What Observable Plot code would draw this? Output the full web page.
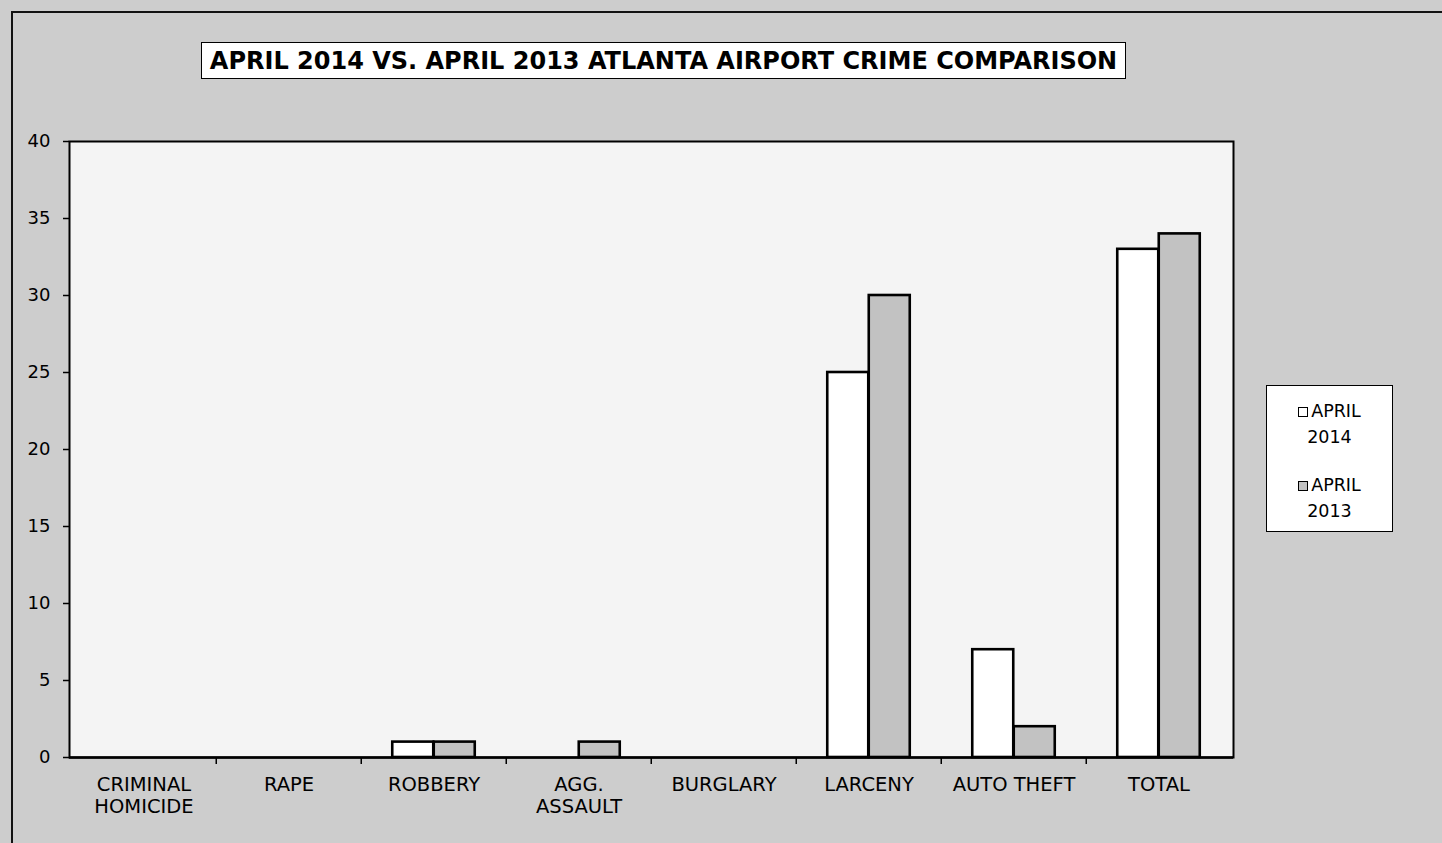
<!DOCTYPE html>
<html>
<head>
<meta charset="utf-8">
<script src="https://cdn.jsdelivr.net/npm/d3@7"></script>
<script src="https://cdn.jsdelivr.net/npm/@observablehq/plot@0.6"></script>
<style>
html, body { margin: 0; padding: 0; background: #cdcdcd; }
#page { position: relative; width: 1442px; height: 843px; background: #cdcdcd; overflow: hidden; font-family: "DejaVu Sans", sans-serif; }
#border { position: absolute; left: 11px; top: 11px; right: -10px; bottom: -10px; border-left: 2px solid #111; border-top: 2px solid #111; }
#chart { position: absolute; left: 0; top: 0; }
#title { position: absolute; left: 201px; top: 42px; width: 923px; height: 35px; border: 1.5px solid #000; background: #fff;
  font: bold 24px "DejaVu Sans"; color: #000; display: flex; align-items: center; justify-content: center; white-space: nowrap; }
#legend { position: absolute; left: 1266px; top: 385px; width: 125px; height: 145px; border: 1.5px solid #000; background: #fff; }
.item { position: absolute; left: 0; width: 100%; text-align: center; font: 17.5px/26px "DejaVu Sans"; color: #000; }
.sw { display: inline-block; width: 8px; height: 8px; border: 1.5px solid #000; margin-right: 3px; }
</style>
</head>
<body>
<div id="page">
  <div id="border"></div>
  <div id="chart"></div>
  <div id="title"></div>
  <div id="legend"></div>
</div>
<script>
const title = "APRIL 2014 VS. APRIL 2013 ATLANTA AIRPORT CRIME COMPARISON";
const categories = ["CRIMINAL\nHOMICIDE", "RAPE", "ROBBERY", "AGG.\nASSAULT", "BURGLARY", "LARCENY", "AUTO THEFT", "TOTAL"];
const series = ["APRIL 2014", "APRIL 2013"];
const april2014 = [0, 0, 1, 0, 0, 25, 7, 33];
const april2013 = [0, 0, 1, 1, 0, 30, 2, 34];
const yTicks = [0, 5, 10, 15, 20, 25, 30, 35, 40];
const colors = ["#ffffff", "#c2c2c2"];

const rows = categories.flatMap((c, i) => [
  {category: c, series: series[0], value: april2014[i]},
  {category: c, series: series[1], value: april2013[i]}
]);

document.getElementById("title").textContent = title;

const W = 1442, H = 843;
const mL = 69, mR = 209, mT = 141, mB = 86;
const step = (W - mL - mR) / categories.length;
const barW = 41.5;
const outer = (step - 2 * barW) / 2;

const chart = Plot.plot({
  width: W, height: H,
  marginLeft: mL, marginRight: mR, marginTop: mT, marginBottom: mB,
  style: {background: "transparent", fontFamily: "DejaVu Sans", fontSize: "18px", color: "#000", overflow: "visible"},
  x: {domain: categories, padding: 0, axis: null},
  y: {domain: [0, 40], axis: null},
  marks: [
    Plot.frame({fill: "#f4f4f4", stroke: null}),
    Plot.barY(rows.filter(d => d.series === series[0] && d.value > 0), {
      x: "category", y: "value", fill: colors[0], stroke: "#000", strokeWidth: 2.6,
      insetLeft: outer, insetRight: step - outer - barW
    }),
    Plot.barY(rows.filter(d => d.series === series[1] && d.value > 0), {
      x: "category", y: "value", fill: colors[1], stroke: "#000", strokeWidth: 2.6,
      insetLeft: outer + barW, insetRight: outer
    }),
    Plot.ruleX(categories.slice(1), {dx: -step / 2, insetTop: H - mT - mB, insetBottom: -7, stroke: "#000", strokeWidth: 1.5}),
    Plot.axisY({ticks: yTicks, tickSize: 6, tickPadding: 13, fontSize: 18, label: null, stroke: "#000", strokeWidth: 1.5}),
    Plot.axisX({tickSize: 0, tickPadding: 18, fontSize: 19.5, lineHeight: 1.12, label: null}),
    Plot.frame({stroke: "#000", strokeWidth: 2}),
    Plot.ruleY([0], {stroke: "#000", strokeWidth: 2.6})
  ]
});
document.getElementById("chart").appendChild(chart);

const legend = document.getElementById("legend");
series.forEach((s, i) => {
  const parts = s.split(" ");
  const item = document.createElement("div");
  item.className = "item";
  item.style.top = (12 + i * 74) + "px";
  const sw = document.createElement("span");
  sw.className = "sw";
  sw.style.background = colors[i];
  item.appendChild(sw);
  item.appendChild(document.createTextNode(parts[0]));
  item.appendChild(document.createElement("br"));
  item.appendChild(document.createTextNode(parts[1]));
  legend.appendChild(item);
});
</script>
</body>
</html>
